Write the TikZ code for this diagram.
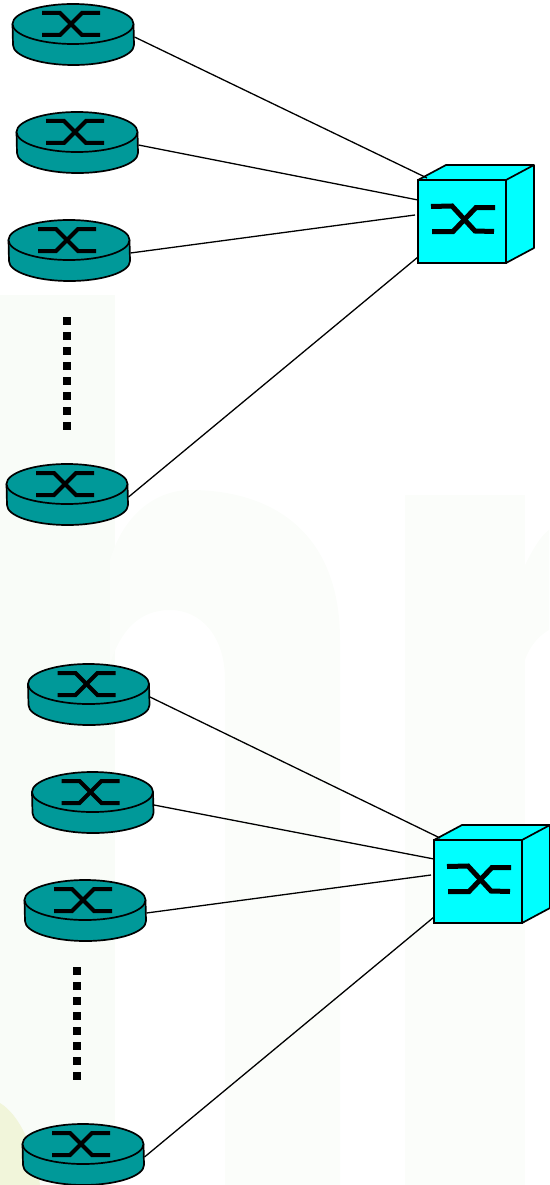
\documentclass[tikz,border=0pt]{standalone}
\definecolor{teal}{HTML}{009999}
\definecolor{swcyan}{HTML}{00FFFF}
\definecolor{wm}{HTML}{F9FCF8}
\definecolor{wmb}{HTML}{FBFDFA}
\definecolor{wmy}{HTML}{F1F5DA}
\tikzset{
  routerbody/.style={minimum width=122pt,minimum height=61pt,inner sep=0pt,outer sep=0pt},
  switchbody/.style={draw=black,fill=swcyan,line width=1.7pt,minimum width=88pt,minimum height=83pt,inner sep=0pt,outer sep=0pt},
  outline/.style={draw=black,line width=1.7pt,line join=round},
  icon/.style={draw=black,line join=miter},
  link/.style={draw=black,line width=1.3pt},
  dotcol/.style={draw=black,line width=7.5pt,dash pattern=on 7.5pt off 7.5pt}
}
\newcommand{\routerat}[3]{%
  \node[routerbody] (#1) at (#2+0.5,#3+10.5) {};
  \begin{scope}[shift={(#2,#3)}]
    \path[outline,fill=teal] (-60.5,0) -- (-60,21) arc[x radius=60.5,y radius=20,start angle=180,end angle=0] -- (60.5,0) -- cycle;
    \path[outline,fill=teal] (0,0) ellipse[x radius=60.5,y radius=20];
    \path[icon,line width=4pt] (-31,-11) -- (-13,-11) -- (9,11) -- (27,11);
    \path[icon,line width=4pt] (-31,11) -- (-13,11) -- (9,-11) -- (27,-11);
  \end{scope}}
\newcommand{\switchat}[3]{%
  \path[outline,fill=swcyan] (#2-44,#3-41.5) -- (#2-16,#3-56.5) -- (#2+72,#3-56.5) -- (#2+72,#3+26.5) -- (#2+44,#3+41.5) -- (#2+44,#3-41.5) -- cycle;
  \path[outline] (#2+44,#3-41.5) -- (#2+72,#3-56.5);
  \node[switchbody] (#1) at (#2,#3) {};
  \begin{scope}[shift={(#2,#3)}]
    \path[icon,line width=5pt] (-31,-15) -- (-10,-15.5) -- (13,9.5) -- (32,10);
    \path[icon,line width=5pt] (-30,10) -- (-9,10) -- (14,-14) -- (33,-14);
  \end{scope}}
\begin{document}
\begin{tikzpicture}[x=1pt,y=-1pt]
\useasboundingbox (0,0) rectangle (549,1185);
% faint watermark
\fill[wm] (0,295) -- (115,295) -- (115,1185) -- (0,1185) -- cycle;
\fill[wmb] (110,560) .. controls (125,510) and (160,490) .. (190,490) .. controls (270,490) and (340,530) .. (340,640) -- (340,1185) -- (225,1185) -- (225,680) .. controls (225,635) and (200,610) .. (170,610) .. controls (140,610) and (120,630) .. (110,665) -- cycle;
\fill[wmb] (405,495) rectangle (525,1185);
\fill[wmb] (525,565) .. controls (535,545) and (542,535) .. (549,530) -- (549,630) .. controls (540,635) and (530,645) .. (525,660) -- cycle;
\fill[wmy] (0,1103) .. controls (20,1115) and (35,1150) .. (40,1185) -- (0,1185) -- cycle;
\switchat{swa}{462}{221.5}
\switchat{swb}{478}{881.5}
\routerat{ra}{73}{24}
\routerat{rb}{77}{132}
\routerat{rc}{69}{240}
\routerat{rd}{67}{484}
\routerat{re}{88.5}{684}
\routerat{rf}{92.5}{792}
\routerat{rg}{85}{900}
\routerat{rh}{83}{1144}
% connectors
\draw[link] ([yshift=-2.5pt]ra.east) -- ([xshift=9pt,yshift=2pt]swa.north west);
\draw[link] ([yshift=-2.5pt]rb.east) -- ([yshift=21.5pt]swa.west);
\draw[link] ([yshift=-2.5pt]rc.east) -- ([xshift=-3pt,yshift=6.5pt]swa.west);
\draw[link] ([yshift=-2.5pt]rd.east) -- ([yshift=6pt]swa.south west);
\draw[link] ([yshift=-2.5pt]re.east) -- ([xshift=6pt,yshift=2pt]swb.north west);
\draw[link] ([yshift=-2.5pt]rf.east) -- ([yshift=22.5pt]swb.west);
\draw[link] ([yshift=-2.5pt]rg.east) -- ([xshift=-3pt,yshift=6.5pt]swb.west);
\draw[link] ([yshift=-2.5pt]rh.east) -- ([yshift=6pt]swb.south west);
\coordinate (dota) at (67,317);
\coordinate (dotb) at (67,430);
\coordinate (dotc) at (77,967);
\coordinate (dotd) at (77,1081);
\draw[dotcol] (dota) -- (dotb);
\draw[dotcol] (dotc) -- (dotd);
\end{tikzpicture}
\end{document}
